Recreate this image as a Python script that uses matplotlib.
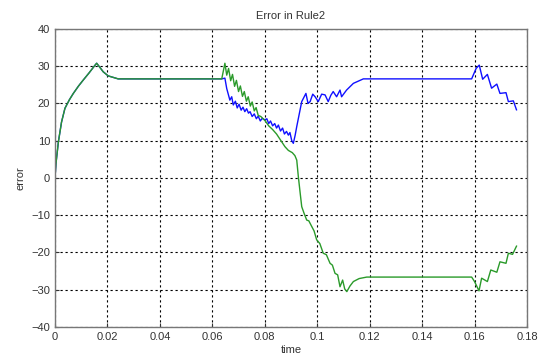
import matplotlib
matplotlib.use("Agg")
import matplotlib.pyplot as plt

# common start-up transient (both traces overlap here)
rise_t = [0.0, 0.0004, 0.0013, 0.0025, 0.0038, 0.0055, 0.0070, 0.0090, 0.0108,
          0.0130, 0.0153, 0.0159, 0.0170, 0.0184, 0.0203, 0.0241, 0.0636]
rise_v = [0.0, 4.0, 9.7, 15.0, 18.7, 21.0, 22.7, 24.7, 26.3,
          28.2, 30.3, 30.8, 29.8, 28.5, 27.4, 26.6, 26.6]

# trace 1 (blue) after the switch
blue_t = [0.0648, 0.0655, 0.0667, 0.0674, 0.0680, 0.0688, 0.0695, 0.0702, 0.0710,
          0.0717, 0.0724, 0.0731, 0.0738, 0.0744, 0.0752, 0.0760, 0.0768, 0.0775,
          0.0783, 0.0790, 0.0801, 0.0808, 0.0815, 0.0822, 0.0830, 0.0838, 0.0845,
          0.0852, 0.0860, 0.0868, 0.0875, 0.0883, 0.0890, 0.0896, 0.0903, 0.0909,
          0.0916, 0.0922, 0.0941, 0.0957, 0.0965, 0.0973, 0.0983, 0.0992, 0.1004,
          0.1017, 0.1030, 0.1042, 0.1052, 0.1061, 0.1074, 0.1087, 0.1093, 0.1112,
          0.1138, 0.1176, 0.1589, 0.1606, 0.1618, 0.1631, 0.1649, 0.1665, 0.1685,
          0.1697, 0.1720, 0.1729, 0.1748, 0.1760]
blue_v = [26.8, 24.0, 20.9, 21.8, 19.6, 20.6, 18.8, 19.8, 18.2,
          19.0, 17.8, 18.6, 17.4, 17.8, 16.5, 17.2, 15.9, 16.6,
          15.3, 16.0, 15.6, 15.9, 14.6, 15.3, 14.0, 14.6, 13.4,
          14.2, 12.6, 13.4, 11.8, 12.5, 11.5, 12.2, 10.0, 9.3,
          11.5, 13.8, 20.5, 22.7, 20.0, 20.5, 22.5, 21.8, 20.5,
          22.5, 22.3, 20.5, 22.2, 23.2, 21.8, 23.6, 21.8, 23.6,
          25.4, 26.6, 26.6, 29.4, 30.3, 26.5, 27.8, 24.1, 25.2,
          22.7, 22.9, 20.5, 20.7, 18.3]

# trace 2 (green) after the switch
green_t = [0.0648, 0.0655, 0.0662, 0.0670, 0.0677, 0.0685, 0.0692, 0.0700, 0.0707,
           0.0715, 0.0722, 0.0730, 0.0737, 0.0745, 0.0752, 0.0760, 0.0767, 0.0775,
           0.0785, 0.0801, 0.0815, 0.0830, 0.0845, 0.0860, 0.0877, 0.0890, 0.0905,
           0.0915, 0.0922, 0.0928, 0.0935, 0.0941, 0.0950, 0.0960, 0.0968, 0.0979,
           0.0988, 0.0998, 0.1010, 0.1023, 0.1035, 0.1049, 0.1058, 0.1068, 0.1078,
           0.1087, 0.1097, 0.1105, 0.1113, 0.1125, 0.1138, 0.1160, 0.1189, 0.1589,
           0.1600, 0.1617, 0.1627, 0.1649, 0.1662, 0.1685, 0.1697, 0.1720, 0.1729,
           0.1745, 0.1760]
green_v = [30.8, 27.6, 29.4, 26.1, 27.8, 24.6, 26.2, 23.2, 24.7,
           21.9, 23.2, 20.6, 21.8, 19.3, 20.4, 18.0, 18.9, 16.8,
           16.5, 15.4, 14.0, 13.0, 11.8, 10.2, 8.4, 7.4, 6.8,
           6.0, 4.8, 0.4, -4.0, -7.7, -9.5, -11.3, -11.5, -13.0,
           -14.2, -16.6, -17.6, -20.2, -20.6, -22.9, -23.4, -25.6, -26.0,
           -29.2, -27.4, -29.8, -30.5, -29.0, -27.8, -27.0, -26.6, -26.6,
           -27.8, -30.3, -26.9, -27.8, -24.7, -25.3, -22.5, -22.9, -20.2,
           -20.5, -18.3]

x_ticks = [0, 0.02, 0.04, 0.06, 0.08, 0.1, 0.12, 0.14, 0.16, 0.18]
x_labels = ["0", "0.02", "0.04", "0.06", "0.08", "0.1", "0.12", "0.14", "0.16", "0.18"]
y_ticks = [-40, -30, -20, -10, 0, 10, 20, 30, 40]

plt.rcParams['font.family'] = ['Liberation Sans', 'DejaVu Sans']

fig = plt.figure(figsize=(5.47, 3.62), dpi=100)
ax = fig.add_axes([0.1005, 0.0967, 0.8629, 0.8233])

ax.plot(rise_t + blue_t, rise_v + blue_v, color='#1010ff', lw=1.0)
ax.plot(rise_t + green_t, rise_v + green_v, color='#2a9a2a', lw=1.0)

ax.set_xlim(0, 0.18)
ax.set_ylim(-40, 40)
ax.set_xticks(x_ticks)
ax.set_xticklabels(x_labels)
ax.set_yticks(y_ticks)
ax.tick_params(direction='in', labelsize=8, colors='#333333', length=3)
ax.grid(True, color='black', linestyle=(0, (2, 2.5)), linewidth=0.8)
for s in ax.spines.values():
    s.set_color('#777777')
    s.set_linewidth(1.0)

ax.set_title("Error in Rule2", fontsize=8, color='#333333', pad=7)
ax.set_xlabel("time", fontsize=8, color='#333333', labelpad=2)
ax.set_ylabel("error", fontsize=8, color='#333333', labelpad=4)

fig.savefig("out.png", dpi=100)
